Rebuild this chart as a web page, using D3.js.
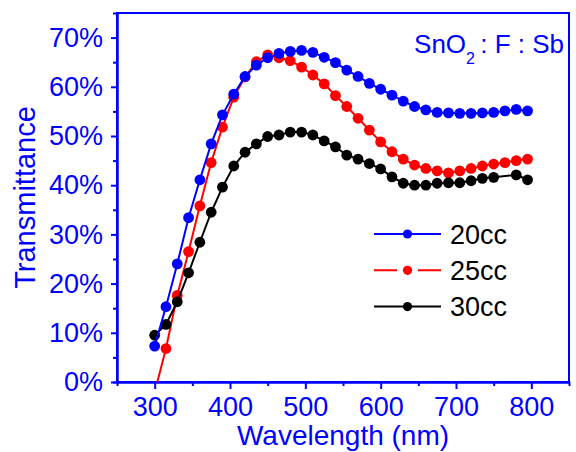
<!DOCTYPE html>
<html>
<head>
<meta charset="utf-8">
<script src="https://cdn.jsdelivr.net/npm/d3@7"></script>
<style>
  body { margin: 0; background: #fff; }
  svg { display: block; font-family: "Liberation Sans", Arial, sans-serif; }
</style>
</head>
<body>
<svg id="chart" width="576" height="452"></svg>
<script>
// wavelength (nm) of each measured point
const wavelengths = [300, 315, 330, 345, 360, 375, 390, 405, 420, 435, 450, 465, 480, 495, 510, 525, 540,
  555, 570, 585, 600, 615, 630, 645, 660, 675, 690, 705, 720, 735, 750, 765, 780, 795]

// transmittance in %
const t20cc = [7.3, 15.3, 24.0, 33.4, 41.1, 48.4, 54.3, 58.5, 62.1, 64.4, 65.9, 66.8, 67.2, 67.4, 67.0, 66.0, 64.9,
  63.4, 62.1, 60.7, 59.5, 58.3, 57.1, 56.0, 55.3, 54.8, 54.7, 54.6, 54.6, 54.7, 54.8, 55.1, 55.4, 55.1]
const t25cc = [-2.1, 6.8, 17.6, 26.5, 35.8, 44.6, 51.8, 57.9, 62.0, 65.1, 66.5, 65.9, 65.3, 64.0, 62.4, 60.6, 58.2,
  56.0, 53.6, 51.2, 48.8, 46.8, 45.3, 44.1, 43.4, 42.9, 42.5, 42.9, 43.4, 43.9, 44.3, 44.6, 45.0, 45.3]
const t30cc = [9.5, 11.7, 16.3, 22.2, 28.4, 34.5, 39.6, 43.9, 46.7, 48.4, 49.9, 50.2, 50.8, 50.8, 50.2, 49.0, 47.8,
  46.1, 45.3, 44.4, 43.3, 41.7, 40.4, 40.0, 40.0, 40.4, 40.5, 40.5, 40.9, 41.4, 41.6, null, 42.1, 41.1]

const seriesNames = ['25cc', '30cc', '20cc']
const seriesColors = { '20cc': '#0000ff', '25cc': '#ff0000', '30cc': '#000000' }
const legendOrder = ['20cc', '25cc', '30cc']

const xTicks = [300, 400, 500, 600, 700, 800]
const xMinorTicks = [350, 450, 550, 650, 750]
const yTicks = [0, 10, 20, 30, 40, 50, 60, 70]
const yMinorTicks = [5, 15, 25, 35, 45, 55, 65]

const axisColor = '#0000ff'
const width = 576
const height = 452
const margin = { top: 13, right: 7, bottom: 70, left: 117 }

const svg = d3.select('#chart')

const x = d3.scaleLinear()
  .domain([250, 850])
  .range([margin.left, width - margin.right])

const y = d3.scaleLinear()
  .domain([0, 75])
  .range([height - margin.bottom, margin.top])

const valuesByName = { '20cc': t20cc, '25cc': t25cc, '30cc': t30cc }

const series = seriesNames.map(name => ({
  name: name,
  color: seriesColors[name],
  points: wavelengths
    .map((w, i) => ({ w: w, v: valuesByName[name][i] }))
    .filter(p => p.v !== null)
}))

svg.append('defs')
  .append('clipPath')
  .attr('id', 'plot-clip')
  .append('rect')
  .attr('x', x.range()[0])
  .attr('y', y.range()[1])
  .attr('width', x.range()[1] - x.range()[0])
  .attr('height', y.range()[0] - y.range()[1])

// axes
function styleAxis (g) {
  g.select('.domain').attr('stroke', axisColor).attr('stroke-width', 2)
  g.selectAll('.tick line').attr('stroke', axisColor).attr('stroke-width', 2)
  g.selectAll('.tick text')
    .attr('fill', axisColor)
    .style('font-size', '27px')
    .style('font-family', '"Liberation Sans", Arial, sans-serif')
}

svg.append('g')
  .attr('transform', `translate(0,${y.range()[0]})`)
  .call(d3.axisBottom(x).tickValues(xMinorTicks).tickSize(4).tickFormat(''))
  .call(styleAxis)

svg.append('g')
  .attr('transform', `translate(0,${y.range()[0]})`)
  .call(d3.axisBottom(x).tickValues(xTicks).tickSize(7).tickPadding(8).tickSizeOuter(0))
  .call(styleAxis)

svg.append('g')
  .attr('transform', `translate(${x.range()[0]},0)`)
  .call(d3.axisLeft(y).tickValues(yMinorTicks).tickSize(4).tickFormat(''))
  .call(styleAxis)

svg.append('g')
  .attr('transform', `translate(${x.range()[0]},0)`)
  .call(d3.axisLeft(y).tickValues(yTicks).tickSize(6).tickPadding(8).tickSizeOuter(0).tickFormat(d => d + '%'))
  .call(styleAxis)

// frame
svg.append('rect')
  .attr('x', x.range()[0])
  .attr('y', y.range()[1])
  .attr('width', x.range()[1] - x.range()[0])
  .attr('height', y.range()[0] - y.range()[1])
  .attr('fill', 'none')
  .attr('stroke', axisColor)
  .attr('stroke-width', 2)

// series
const line = d3.line()
  .x(d => x(d.w))
  .y(d => y(d.v))

const plot = svg.append('g').attr('clip-path', 'url(#plot-clip)')

const groups = plot.selectAll('g.series')
  .data(series)
  .enter()
  .append('g')
  .attr('class', 'series')

groups.append('path')
  .attr('d', d => line(d.points))
  .attr('fill', 'none')
  .attr('stroke', d => d.color)
  .attr('stroke-width', 2)

groups.each(function (s) {
  d3.select(this)
    .selectAll('circle')
    .data(s.points.filter(p => p.v >= 0))
    .enter()
    .append('circle')
    .attr('cx', p => x(p.w))
    .attr('cy', p => y(p.v))
    .attr('r', 5.4)
    .attr('fill', s.color)
})

// axis titles
svg.append('text')
  .attr('x', (x.range()[0] + x.range()[1]) / 2)
  .attr('y', 445)
  .attr('text-anchor', 'middle')
  .attr('fill', axisColor)
  .style('font-size', '28px')
  .text('Wavelength (nm)')

svg.append('text')
  .attr('transform', `translate(35,${(y.range()[0] + y.range()[1]) / 2}) rotate(-90)`)
  .attr('text-anchor', 'middle')
  .attr('fill', axisColor)
  .style('font-size', '29px')
  .text('Transmittance')

// sample label
const label = svg.append('text')
  .attr('x', 564)
  .attr('y', 53)
  .attr('text-anchor', 'end')
  .attr('fill', axisColor)
  .style('font-size', '26px')

label.append('tspan').text('SnO')
label.append('tspan').attr('dy', 11).style('font-size', '16px').text('2')
label.append('tspan').attr('dy', -11).text('\u2009: F : Sb')

// legend
const legend = svg.append('g')
  .selectAll('g')
  .data(legendOrder)
  .enter()
  .append('g')
  .attr('transform', (d, i) => `translate(374,${234 + i * 36.3})`)

legend.append('line')
  .attr('x1', 0)
  .attr('x2', 67)
  .attr('stroke', d => seriesColors[d])
  .attr('stroke-width', 2)
  .attr('stroke-dasharray', d => d === '25cc' ? '23,21,23' : null)

legend.append('circle')
  .attr('cx', 33.5)
  .attr('r', 4.6)
  .attr('fill', d => seriesColors[d])

legend.append('text')
  .attr('x', 76)
  .attr('y', 9.5)
  .attr('fill', '#000')
  .style('font-size', '27px')
  .text(d => d)
</script>
</body>
</html>
